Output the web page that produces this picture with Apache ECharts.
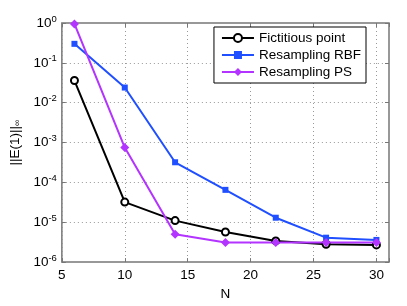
<!DOCTYPE html>
<html><head><meta charset="utf-8">
<script src="https://cdn.jsdelivr.net/npm/echarts@6/dist/echarts.min.js"></script>
<style>html,body{margin:0;padding:0;background:#fff}#c{width:407px;height:306px}</style>
</head><body><div id="c"></div>
<script>
const N = [6, 10, 14, 18, 22, 26, 30];
const fictitious = [0.036, 3.2e-5, 1.1e-5, 5.7e-6, 3.4e-6, 2.8e-6, 2.7e-6];
const resRBF = [0.30, 0.024, 3.2e-4, 6.5e-5, 1.3e-5, 4.1e-6, 3.6e-6];
const resPS = [0.95, 7.5e-4, 5.0e-6, 3.1e-6, 3.1e-6, 3.1e-6, 3.1e-6];
const names = ['Fictitious point', 'Resampling RBF', 'Resampling PS'];
const xTicks = [5, 10, 15, 20, 25, 30];

const font = 'Liberation Sans, Arial, sans-serif';
const chart = echarts.init(document.getElementById('c'));
const pair = (ys) => N.map((x, i) => [x, ys[i]]);
const gridLine = {show: true, lineStyle: {color: '#999', type: [1, 3], width: 1}};
chart.setOption({
  animation: false,
  grid: {left: 59, right: 18, top: 23, bottom: 37, show: true, borderColor: '#777', borderWidth: 1.5},
  legend: {
    right: 41, top: 27, orient: 'vertical', itemGap: 3, itemWidth: 32, itemHeight: 10,
    backgroundColor: '#fff', borderColor: '#000', borderWidth: 1, padding: [4, 5, 4, 7],
    textStyle: {fontFamily: font, fontSize: 13.5, color: '#000'},
    data: names
  },
  xAxis: [{
    type: 'value', min: 5, max: 31, interval: 5,
    name: 'N', nameLocation: 'middle', nameGap: 20,
    nameTextStyle: {fontFamily: font, fontSize: 13.5, color: '#000'},
    axisLine: {show: false}, axisTick: {inside: true, length: 4, lineStyle: {color: '#777'}},
    axisLabel: {fontFamily: font, fontSize: 13.5, color: '#000', margin: 6,
      formatter: v => xTicks.includes(v) ? String(v) : ''},
    splitLine: gridLine
  }, {
    type: 'value', min: 5, max: 31, interval: 5, position: 'top',
    axisLine: {show: false}, axisTick: {inside: true, length: 4, lineStyle: {color: '#777'}},
    axisLabel: {show: false}, splitLine: {show: false}
  }],
  yAxis: [{
    type: 'log', min: 1e-6, max: 1, logBase: 10,
    name: '||E(1)||{sub|∞}', nameLocation: 'middle', nameGap: 35, nameRotate: 90,
    nameTextStyle: {fontFamily: font, fontSize: 13.5, color: '#000',
      rich: {sub: {fontSize: 9, verticalAlign: 'bottom', padding: [6, 0, 0, 0], fontFamily: font}}},
    axisLine: {show: false}, axisTick: {inside: true, length: 4, lineStyle: {color: '#777'}},
    axisLabel: {fontFamily: font, fontSize: 13.5, color: '#000', margin: 5,
      formatter: v => '10{sup|' + Math.round(Math.log10(v)) + '}',
      rich: {sup: {fontSize: 9.5, verticalAlign: 'top', padding: [0, 0, 8, 0], fontFamily: font}}},
    splitLine: gridLine
  }, {
    type: 'log', min: 1e-6, max: 1, logBase: 10, position: 'right',
    axisLine: {show: false}, axisTick: {inside: true, length: 4, lineStyle: {color: '#777'}},
    axisLabel: {show: false}, splitLine: {show: false}
  }],
  series: [
    {name: names[0], type: 'line', data: pair(fictitious), color: '#000',
     symbol: 'emptyCircle', symbolSize: 7, lineStyle: {width: 2}, itemStyle: {borderWidth: 1.8}},
    {name: names[1], type: 'line', data: pair(resRBF), color: '#1f4fff',
     symbol: 'rect', symbolSize: 6, lineStyle: {width: 2}},
    {name: names[2], type: 'line', data: pair(resPS), color: '#b333ff',
     symbol: 'diamond', symbolSize: 9, lineStyle: {width: 2}}
  ]
});
</script></body></html>
